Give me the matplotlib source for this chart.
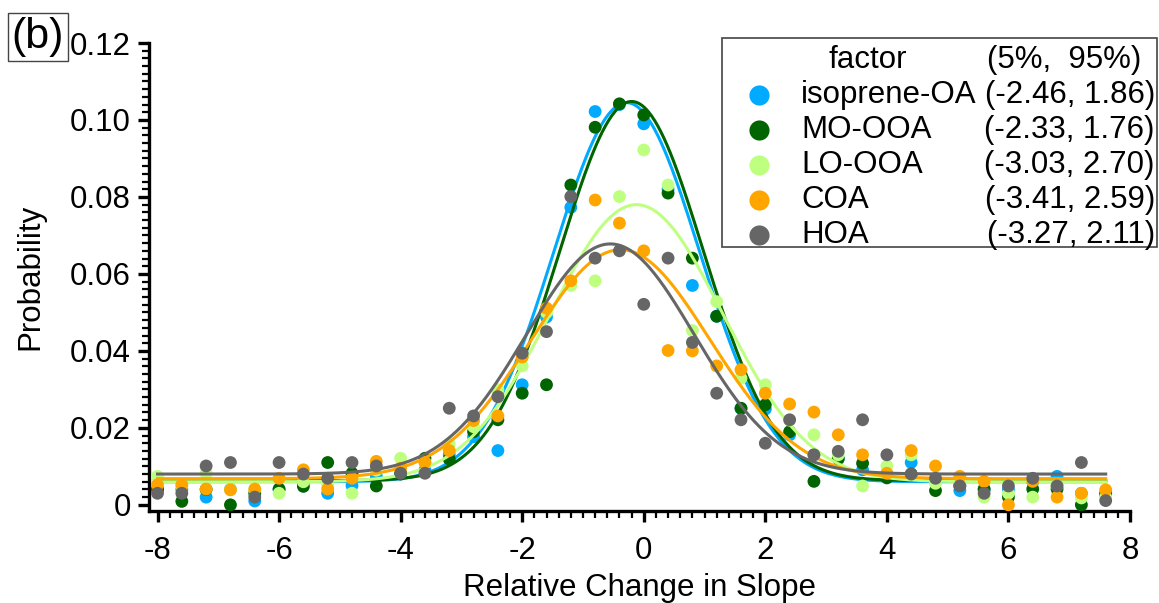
import numpy as np
import matplotlib
matplotlib.use("Agg")
import matplotlib.pyplot as plt
from matplotlib.lines import Line2D
from matplotlib.patches import Rectangle
from matplotlib.ticker import MultipleLocator, FixedLocator

plt.rcParams['font.family'] = ['Liberation Sans', 'DejaVu Sans']
plt.rcParams['axes.unicode_minus'] = False

# ---------------- data ----------------
x_bins = [-8.0, -7.6, -7.2, -6.8, -6.4, -6.0, -5.6, -5.2, -4.8, -4.4,
          -4.0, -3.6, -3.2, -2.8, -2.4, -2.0, -1.6, -1.2, -0.8, -0.4,
          0.0, 0.4, 0.8, 1.2, 1.6, 2.0, 2.4, 2.8, 3.2, 3.6,
          4.0, 4.4, 4.8, 5.2, 5.6, 6.0, 6.4, 6.8, 7.2, 7.6]

isoprene_oa = [0.004, 0.004, 0.002, 0.004, 0.001, 0.004, 0.006, 0.003, 0.005, 0.0074,
               0.008, 0.009, 0.013, 0.0177, 0.0141, 0.0312, 0.0488, 0.0773, 0.1022, 0.104,
               0.099, 0.082, 0.057, 0.049, 0.025, 0.0249, 0.0182, 0.013, 0.012, 0.0091,
               0.008, 0.011, 0.006, 0.0037, 0.004, 0.004, 0.006, 0.0074, 0.003, 0.0026]

mo_ooa = [0.004, 0.0009, 0.004, 0.0, 0.003, 0.0041, 0.0048, 0.011, 0.0082, 0.0049,
          0.008, 0.0121, 0.0119, 0.019, 0.0221, 0.029, 0.0312, 0.0831, 0.0981, 0.1042,
          0.1013, 0.081, 0.0641, 0.049, 0.0251, 0.026, 0.019, 0.0061, 0.012, 0.0108,
          0.007, 0.008, 0.0037, 0.005, 0.0041, 0.002, 0.0041, 0.0041, 0.0, 0.003]

lo_ooa = [0.0074, 0.005, 0.0082, 0.004, 0.004, 0.003, 0.006, 0.005, 0.003, 0.009,
          0.0121, 0.011, 0.0158, 0.0203, 0.0299, 0.0361, 0.050, 0.057, 0.0582, 0.0801,
          0.0922, 0.0831, 0.0453, 0.0528, 0.0329, 0.0312, 0.022, 0.0182, 0.013, 0.0049,
          0.0101, 0.013, 0.0056, 0.006, 0.002, 0.003, 0.002, 0.005, 0.0018, 0.002]

coa = [0.0052, 0.0052, 0.0041, 0.0039, 0.0041, 0.0069, 0.0091, 0.0041, 0.0069, 0.0113,
       0.0095, 0.011, 0.0141, 0.0219, 0.0231, 0.0384, 0.0511, 0.0582, 0.0792, 0.0732,
       0.066, 0.0401, 0.040, 0.0361, 0.0351, 0.029, 0.0262, 0.0241, 0.0182, 0.013,
       0.0082, 0.0141, 0.0101, 0.0074, 0.0061, 0.0, 0.0061, 0.002, 0.003, 0.0039]

hoa = [0.003, 0.003, 0.0101, 0.011, 0.002, 0.011, 0.008, 0.0069, 0.011, 0.0101,
       0.0082, 0.0082, 0.0251, 0.0231, 0.0281, 0.0394, 0.045, 0.0801, 0.0641, 0.066,
       0.0521, 0.0641, 0.0422, 0.029, 0.0221, 0.016, 0.0221, 0.013, 0.0139, 0.0221,
       0.013, 0.008, 0.0069, 0.0049, 0.003, 0.0049, 0.0069, 0.0049, 0.011, 0.0011]

factor_names = ['isoprene-OA', 'MO-OOA', 'LO-OOA', 'COA', 'HOA']
intervals = ['(-2.46, 1.86)', '(-2.33, 1.76)', '(-3.03, 2.70)', '(-3.41, 2.59)', '(-3.27, 2.11)']
colors = ['#00AAFF', '#006400', '#BFFF80', '#FFA500', '#666666']

# Gaussian fit parameters: baseline, amplitude, centre, sigma
fit_y0 = [0.0060, 0.0063, 0.0060, 0.0068, 0.0080]
fit_amp = [0.0985, 0.0985, 0.0720, 0.0595, 0.0598]
fit_xc = [-0.28, -0.20, -0.12, -0.38, -0.55]
fit_sigma = [1.20, 1.18, 1.42, 1.47, 1.38]

series = [isoprene_oa, mo_ooa, lo_ooa, coa, hoa]

# ---------------- figure ----------------
W, H = 1159, 603
FS = 22.5
fig = plt.figure(figsize=(W / 100, H / 100), dpi=100)


def fx(px):
    return px / W


def fy(py):
    return 1 - py / H


ax = fig.add_axes([fx(149), fy(511), fx(1130) - fx(149), fy(43) - fy(511)])

xb = np.array(x_bins)
xf = np.linspace(xb.min(), xb.max(), 600)
for i in range(len(series)):
    ax.scatter(xb, series[i], s=85, color=colors[i], edgecolors='none', zorder=2 + i, clip_on=False)
    yfit = fit_y0[i] + fit_amp[i] * np.exp(-(xf - fit_xc[i]) ** 2 / (2 * fit_sigma[i] ** 2))
    ax.plot(xf, yfit, color=colors[i], lw=2.2, zorder=2 + i)

ax.set_xlim(-8.14, 8.0)
ax.set_ylim(-0.0016, 0.12)

for s in ['top', 'right']:
    ax.spines[s].set_visible(False)
for s in ['left', 'bottom']:
    ax.spines[s].set_linewidth(2.4)

ax.xaxis.set_major_locator(FixedLocator([-8, -6, -4, -2, 0, 2, 4, 6, 8]))
ax.xaxis.set_minor_locator(MultipleLocator(0.2))
ax.yaxis.set_major_locator(FixedLocator([0, 0.02, 0.04, 0.06, 0.08, 0.10, 0.12]))
ax.yaxis.set_minor_locator(MultipleLocator(0.002))
ax.set_xticklabels(['-8', '-6', '-4', '-2', '0', '2', '4', '6', '8'])
ax.set_yticklabels(['0', '0.02', '0.04', '0.06', '0.08', '0.10', '0.12'])

ax.tick_params(which='major', direction='out', length=8, width=2.4, labelsize=FS, colors='black')
ax.tick_params(axis='x', which='major', pad=10)
ax.tick_params(axis='y', which='major', pad=5)
ax.tick_params(which='minor', direction='out', length=5, width=1.6)

ax.set_xlabel('Relative Change in Slope', fontsize=FS, labelpad=5)
ax.set_ylabel('Probability', fontsize=FS, labelpad=18)

# panel tag
fig.text(fx(38), fy(37), '(b)', fontsize=31, ha='center', va='center',
         bbox=dict(boxstyle='square,pad=0.1', fc='white', ec='#444444', lw=1))

# legend box built manually
fig.add_artist(Rectangle((fx(722), fy(247)), fx(1157) - fx(722), fy(38) - fy(247),
                         transform=fig.transFigure, fill=False, ec='#444444', lw=1.2))
fig.text(fx(868), fy(60), 'factor', fontsize=FS, ha='center', va='center')
fig.text(fx(1064), fy(60), '(5%,  95%)', fontsize=FS, ha='center', va='center')
row_y = [95, 130, 165, 200, 235]
for i in range(len(factor_names)):
    fig.add_artist(Line2D([fx(759)], [fy(row_y[i])], marker='o', markersize=14.5,
                          color=colors[i], markeredgewidth=0, linestyle='none',
                          transform=fig.transFigure))
    fig.text(fx(801), fy(row_y[i]), factor_names[i], fontsize=FS, ha='left', va='center')
    fig.text(fx(1155), fy(row_y[i]), intervals[i], fontsize=FS, ha='right', va='center')

fig.savefig('out.png', dpi=100)
